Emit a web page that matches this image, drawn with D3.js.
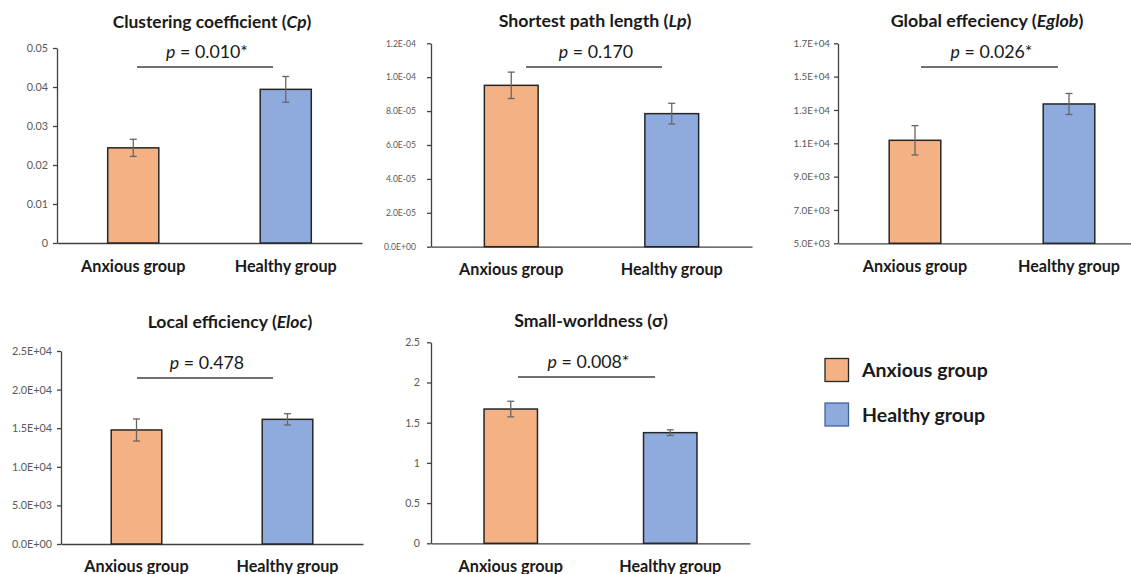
<!DOCTYPE html>
<html>
<head>
<meta charset="utf-8">
<script src="https://cdn.jsdelivr.net/npm/d3@7"></script>
<style>
  html, body { margin: 0; padding: 0; background: #fff; }
  svg { display: block; font-family: Lato, "Open Sans", sans-serif; }
</style>
</head>
<body>
<svg id="chart" width="1131" height="574"></svg>
<script>
// ---------------- DATA ----------------
const groups = ["Anxious group", "Healthy group"];

const titleMain   = ["Clustering coefficient (", "Shortest path length (", "Global effeciency (", "Local efficiency (", "Small-worldness (σ)"];
const titleItalic = ["Cp", "Lp", "Eglob", "Eloc", ""];
const titleEnd    = [")", ")", ")", ")", ""];

const pLabels = ["0.010*", "0.170", "0.026*", "0.478", "0.008*"];

const meanCp = [0.0244, 0.0394];
const errCp  = [0.0022, 0.0033];
const meanLp = [9.52e-5, 7.85e-5];
const errLp  = [7.8e-6, 6.1e-6];
const meanEglob = [11180, 13360];
const errEglob  = [880, 630];
const meanEloc = [14770, 16150];
const errEloc  = [1430, 730];
const meanSigma = [1.670, 1.376];
const errSigma  = [0.097, 0.035];

const ticksCp    = [0, 0.01, 0.02, 0.03, 0.04, 0.05];
const tickLabCp  = ["0", "0.01", "0.02", "0.03", "0.04", "0.05"];
const ticksLp    = [0, 2e-5, 4e-5, 6e-5, 8e-5, 1e-4, 1.2e-4];
const tickLabLp  = ["0.0E+00", "2.0E-05", "4.0E-05", "6.0E-05", "8.0E-05", "1.0E-04", "1.2E-04"];
const ticksEglob   = [5000, 7000, 9000, 11000, 13000, 15000, 17000];
const tickLabEglob = ["5.0E+03", "7.0E+03", "9.0E+03", "1.1E+04", "1.3E+04", "1.5E+04", "1.7E+04"];
const ticksEloc    = [0, 5000, 10000, 15000, 20000, 25000];
const tickLabEloc  = ["0.0E+00", "5.0E+03", "1.0E+04", "1.5E+04", "2.0E+04", "2.5E+04"];
const ticksSigma   = [0, 0.5, 1, 1.5, 2, 2.5];
const tickLabSigma = ["0", "0.5", "1", "1.5", "2", "2.5"];

const colors = ["#F4B183", "#8FAADC"];
const legendStroke = ["#262626", "#41669E"];

// ---------------- LAYOUT ----------------
const panels = [
  { means: meanCp, errs: errCp, ticks: ticksCp, labs: tickLabCp,
    ax: 57, top: 48, bottom: 243, right: 362, titleX: 212, titleY: 28, titleW: 199,
    tickFs: 10.8, tickPad: 5, pl: [137, 273], pY: 67, xlabY: 272 },
  { means: meanLp, errs: errLp, ticks: ticksLp, labs: tickLabLp,
    ax: 431, top: 43.3, bottom: 246.7, right: 752, titleX: 595, titleY: 27, titleW: 193,
    tickFs: 8.6, tickPad: 11, pl: [526, 662], pY: 67, xlabY: 275 },
  { means: meanEglob, errs: errEglob, ticks: ticksEglob, labs: tickLabEglob,
    ax: 838, top: 43.3, bottom: 243.3, right: 1146, titleX: 987, titleY: 27, titleW: 193,
    tickFs: 9.8, tickPad: 4, pl: [921, 1058], pY: 67, xlabY: 272 },
  { means: meanEloc, errs: errEloc, ticks: ticksEloc, labs: tickLabEloc,
    ax: 61, top: 351, bottom: 544, right: 363, titleX: 230, titleY: 328, titleW: 165,
    tickFs: 10.8, tickPad: 5, pl: [137, 273], pY: 378, xlabY: 572 },
  { means: meanSigma, errs: errSigma, ticks: ticksSigma, labs: tickLabSigma,
    ax: 431, top: 342.3, bottom: 543.3, right: 750, titleX: 591, titleY: 327, titleW: 154,
    tickFs: 10.6, tickPad: 7, pl: [518, 655], pY: 377, xlabY: 572 }
];

const svg = d3.select("#chart");

function fitSize(node, base, target) {
  const w = node.getBBox().width;
  const s = w > 0 ? base * target / w : base;
  return Math.max(base * 0.8, Math.min(base * 1.3, s));
}

panels.forEach((p, i) => {
  const g = svg.append("g");
  const x = d3.scaleBand().domain(groups).range([p.ax, p.right]).padding(0);
  const y = d3.scaleLinear().domain([p.ticks[0], p.ticks[p.ticks.length - 1]]).range([p.bottom, p.top]);
  const bw = x.step() * 0.335;

  // y axis
  const yAxis = d3.axisLeft(y).tickValues(p.ticks)
    .tickFormat((d, k) => p.labs[k]).tickSize(4).tickSizeOuter(0).tickPadding(p.tickPad);
  const ya = g.append("g").attr("transform", `translate(${p.ax},0)`).call(yAxis);
  ya.attr("font-family", null);
  ya.select(".domain").attr("stroke", "#404040").attr("stroke-width", 1.3);
  ya.selectAll(".tick line").attr("stroke", "#404040").attr("stroke-width", 1.3);
  ya.selectAll(".tick text").attr("fill", "#595959")
    .style("font-size", p.tickFs + "px").style("font-family", "Lato, sans-serif");

  // x axis line
  const xAxis = d3.axisBottom(x).tickSize(0).tickSizeOuter(0).tickFormat("");
  const xa = g.append("g").attr("transform", `translate(0,${p.bottom})`).call(xAxis);
  xa.select(".domain").attr("stroke", "#404040").attr("stroke-width", 1.3);

  // bars
  g.selectAll("rect.bar").data(groups).enter().append("rect")
    .attr("class", "bar")
    .attr("x", d => x(d) + x.bandwidth() / 2 - bw / 2)
    .attr("width", bw)
    .attr("y", (d, k) => y(p.means[k]))
    .attr("height", (d, k) => p.bottom - y(p.means[k]))
    .attr("fill", (d, k) => colors[k])
    .attr("stroke", "#262626").attr("stroke-width", 1.5);

  // error bars
  groups.forEach((d, k) => {
    const cx = x(d) + x.bandwidth() / 2;
    const hi = y(p.means[k] + p.errs[k]), lo = y(p.means[k] - p.errs[k]);
    g.append("line").attr("x1", cx).attr("x2", cx).attr("y1", hi).attr("y2", lo)
      .attr("stroke", "#666").attr("stroke-width", 1.3);
    [hi, lo].forEach(yy => g.append("line").attr("x1", cx - 3.5).attr("x2", cx + 3.5)
      .attr("y1", yy).attr("y2", yy).attr("stroke", "#666").attr("stroke-width", 1.3));
  });

  // x labels
  g.selectAll("text.xl").data(groups).enter().append("text")
    .attr("class", "xl")
    .attr("x", d => x(d) + x.bandwidth() / 2)
    .attr("y", p.xlabY)
    .attr("text-anchor", "middle")
    .attr("fill", "#1a1a1a")
    .style("font-size", "16.2px").style("font-weight", "bold")
    .text(d => d);

  // title
  const t = g.append("text").attr("x", p.titleX).attr("y", p.titleY)
    .attr("text-anchor", "middle").attr("fill", "#1a1a1a")
    .style("font-size", "17.5px").style("font-weight", "bold");
  t.append("tspan").text(titleMain[i]);
  if (titleItalic[i]) {
    t.append("tspan").style("font-style", "italic").text(titleItalic[i]);
    t.append("tspan").text(titleEnd[i]);
  }
  t.style("font-size", fitSize(t.node(), 17.5, p.titleW) + "px");

  // significance line + p text
  g.append("line").attr("x1", p.pl[0]).attr("x2", p.pl[1]).attr("y1", p.pY).attr("y2", p.pY)
    .attr("stroke", "#404040").attr("stroke-width", 1.3);
  const pt = g.append("text").attr("x", (p.pl[0] + p.pl[1]) / 2 + 2).attr("y", p.pY - 9.5)
    .attr("text-anchor", "middle").attr("fill", "#1a1a1a").style("font-size", "17.8px");
  pt.append("tspan").style("font-style", "italic").text("p");
  pt.append("tspan").text(" = " + pLabels[i]);
});

// legend
const leg = svg.append("g");
groups.forEach((d, k) => {
  leg.append("rect").attr("x", 825).attr("y", 358.5 + k * 44.5).attr("width", 23.5).attr("height", 23)
    .attr("fill", colors[k]).attr("stroke", legendStroke[k]).attr("stroke-width", 1.3);
  leg.append("text").attr("x", 862).attr("y", 377 + k * 45)
    .attr("fill", "#1a1a1a").style("font-size", "19.5px").style("font-weight", "bold").text(d);
});
</script>
</body>
</html>
